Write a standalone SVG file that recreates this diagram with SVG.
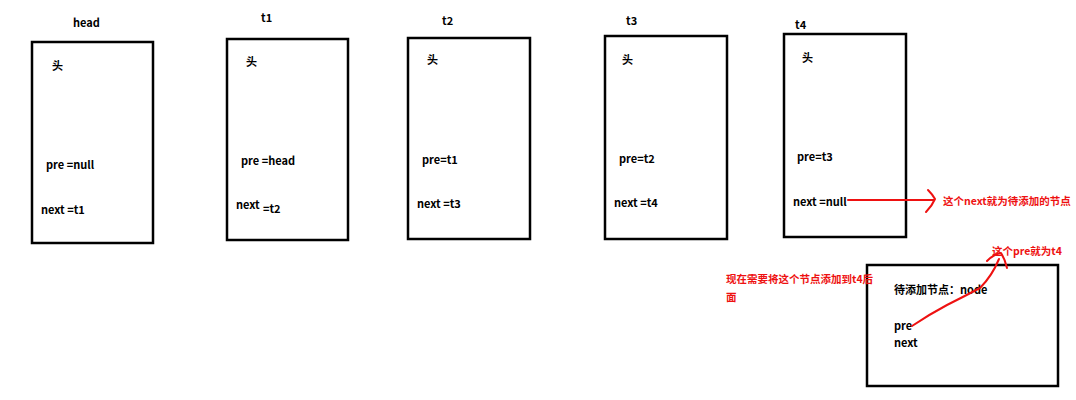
<svg xmlns="http://www.w3.org/2000/svg" width="1076" height="400" viewBox="0 0 1076 400">
<style>
.box{fill:#fff;stroke:#000;stroke-width:2.5}
text{font-family:"Noto Sans CJK SC","Noto Sans",sans-serif;font-size:11px;font-weight:bold;fill:#000}
.red{fill:#ee1111;font-size:10.5px}
.rl{fill:none;stroke:#ee1111;stroke-width:2;stroke-linecap:round;stroke-linejoin:round}
</style>
<rect width="1076" height="400" fill="#fff"/>
<g id="node-head">
<text x="73" y="27">head</text>
<rect class="box" x="32" y="42" width="121" height="201"/>
<text x="52" y="70">头</text>
<text x="46" y="169">pre =null</text>
<text x="41" y="214">next =t1</text>
</g>
<g id="node-t1">
<text x="261" y="22">t1</text>
<rect class="box" x="227" y="39" width="121" height="201"/>
<text x="246" y="66">头</text>
<text x="241" y="165">pre =head</text>
<text x="236" y="209">next</text>
<text x="263" y="213">=t2</text>
</g>
<g id="node-t2">
<text x="442" y="25">t2</text>
<rect class="box" x="408" y="38" width="122" height="201"/>
<text x="427" y="64">头</text>
<text x="422" y="164">pre=t1</text>
<text x="417" y="208">next =t3</text>
</g>
<g id="node-t3">
<text x="626" y="25">t3</text>
<rect class="box" x="605" y="36" width="122" height="203"/>
<text x="622" y="64">头</text>
<text x="619" y="163">pre=t2</text>
<text x="614" y="207">next =t4</text>
</g>
<g id="node-t4">
<text x="795" y="29">t4</text>
<rect class="box" x="784" y="34" width="122" height="203"/>
<text x="802" y="62">头</text>
<text x="797" y="161">pre=t3</text>
<text x="793" y="206">next =null</text>
</g>
<g id="node-new">
<rect class="box" x="867" y="265" width="191" height="121"/>
<text x="894" y="294">待添加节点：node</text>
<text x="894" y="330">pre</text>
<text x="894" y="347">next</text>
</g>
<g id="annotations">
<text class="red" x="943" y="205">这个next就为待添加的节点</text>
<text class="red" x="992" y="255">这个pre就为t4</text>
<text class="red" x="726" y="283">现在需要将这个节点添加到t4后</text>
<text class="red" x="726" y="301">面</text>
</g>
<g id="connectors">
<path class="rl" d="M848 200 L934 200"/>
<path class="rl" d="M928 190 Q933 195 935 199 Q932 206 926 212"/>
<path class="rl" d="M912 326 Q930 314 947 305 Q965 296 980 288 Q992 276 999 259"/>
<path class="rl" d="M987 261 Q994 254 1001 253 Q1005 259 1007 268"/>
</g>
</svg>
